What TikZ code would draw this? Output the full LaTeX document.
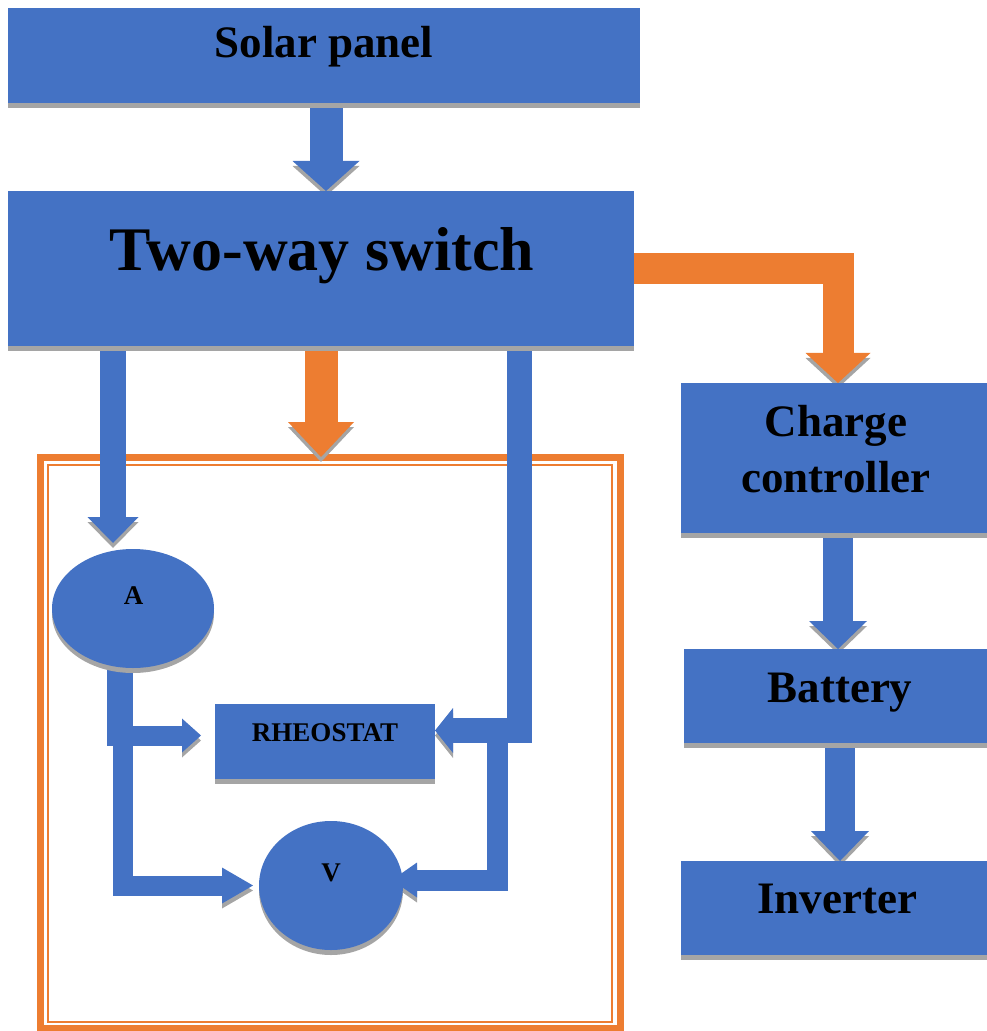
\documentclass[tikz,border=0pt]{standalone}
\usepackage{fontspec}
\setmainfont{Liberation Serif}
\usetikzlibrary{arrows.meta,shapes.geometric,shadows,backgrounds}
\definecolor{boxblue}{HTML}{4472C4}
\definecolor{arroworange}{HTML}{ED7D31}
\definecolor{shadegray}{HTML}{A5A5A5}
\tikzset{
 block/.style={fill=boxblue,inner sep=0pt,outer sep=0pt,drop shadow={shadow xshift=0pt,shadow yshift=-2.5pt,fill=shadegray,opacity=1}},
 meter/.style={block,ellipse},
 boxtext/.style={font=\bfseries\fontsize{22.5}{27}\selectfont,anchor=base,inner sep=0pt},
 smalltext/.style={font=\bfseries\fontsize{13.5}{16}\selectfont,anchor=base,inner sep=0pt},
 flow/.style n args={4}{draw=#1,line width=#2,-{Triangle[length=#3,width=#4,line width=0pt]},preaction={draw=shadegray,transform canvas={yshift=-2.5pt}}}
}

\begin{document}
\begin{tikzpicture}[x=0.5pt,y=-0.5pt]
 \useasboundingbox (0,0) rectangle (986,1031);
 % boxes
 \node[block,minimum width=316pt,minimum height=47.5pt] (solar) at (324,55.5) {};
 \node[block,minimum width=313pt,minimum height=77.5pt] (switch) at (321,268.5) {};
 \node[block,minimum width=157pt,minimum height=75pt] (charge) at (838,458) {};
 \node[block,minimum width=156pt,minimum height=47pt] (battery) at (840,696) {};
 \node[block,minimum width=157pt,minimum height=47pt] (inverter) at (838,908) {};
 \node[block,minimum width=110pt,minimum height=37.5pt] (rheo) at (325,741.5) {};
 \node[meter,minimum width=81pt,minimum height=59.5pt] (A) at (133,608.5) {};
 \node[meter,minimum width=72pt,minimum height=64.5pt] (V) at (331,885.5) {};
 % labels
 \node[boxtext] (solartext) at (324,58) {Solar panel};
 \node[boxtext,font=\bfseries\fontsize{31}{37}\selectfont] (switchtext) at (322,271) {Two-way switch};
 \node[boxtext] (chargetext) at (836,436) {Charge};
 \node[boxtext] (controllertext) at (836,492) {controller};
 \node[boxtext] (batterytext) at (840,702) {Battery};
 \node[boxtext] (invertertext) at (837,913) {Inverter};
 \node[smalltext] (rheotext) at (325,741) {RHEOSTAT};
 \node[smalltext] (Atext) at (133.5,604) {A};
 \node[smalltext] (Vtext) at (331,881) {V};

 \begin{scope}[on background layer]
 % double frame round the meters
 \node[draw=arroworange,line width=3.5pt,inner sep=0pt,outer sep=0pt,minimum width=290pt,minimum height=285.5pt] (circuit) at (330,742.5) {};
 \draw[arroworange,line width=1.25pt] ([shift={(8,8)}]circuit.north west) rectangle ([shift={(-8,-6)}]circuit.south east);
 % connectors
 \coordinate (ain) at ([xshift=-10pt,yshift=3pt]A.north);
 \coordinate (rtap) at ([xshift=99pt]switch.south);
 \coordinate (rin) at ([yshift=5.5pt]rheo.east);
 \coordinate (rleft) at ([xshift=-7pt,yshift=3pt]rheo.west);
 \coordinate (vleft) at ([xshift=-3pt]V.west);
 \coordinate (vright) at ([xshift=-5.5pt,yshift=2.75pt]V.east);
 \draw[flow={boxblue}{16.5pt}{15pt}{33.5pt}] ([xshift=1pt]solar.south) -- ([xshift=1pt]solar.south |- switch.north);
 \draw[flow={arroworange}{15.5pt}{15pt}{32.5pt}] (switch.east) -| (charge.north);
 \draw[flow={arroworange}{16.5pt}{17.5pt}{33pt}] (switch.south) -- (switch.south |- circuit.north);
 \draw[flow={boxblue}{13pt}{13pt}{25.5pt}] (switch.south -| ain) -- (ain);
 \draw[flow={boxblue}{12.5pt}{9pt}{22.5pt}] (rtap) |- (rin);
 \draw[flow={boxblue}{10pt}{9.5pt}{17pt}] ([xshift=-8pt]A.south) |- (rleft);
 \draw[flow={boxblue}{10pt}{15.5pt}{18pt}] ([xshift=-5.25pt]A.south) |- (vleft);
 \draw[flow={boxblue}{10.5pt}{12.5pt}{17.5pt}] ([xshift=31pt]rheo.east) |- (vright);
 \draw[flow={boxblue}{15pt}{14pt}{29pt}] (charge.south) -- (charge.south |- battery.north);
 \draw[flow={boxblue}{15pt}{15pt}{29pt}] (battery.south) -- (battery.south |- inverter.north);
 \end{scope}
\end{tikzpicture}
\end{document}
